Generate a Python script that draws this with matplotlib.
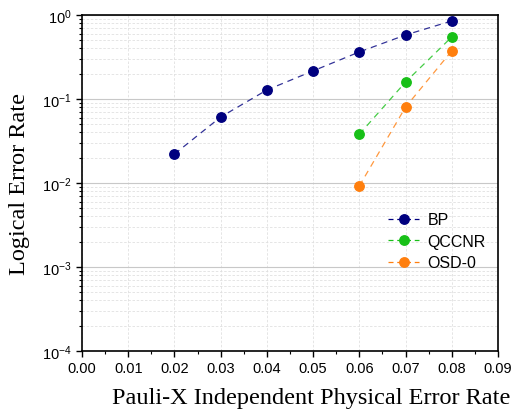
import matplotlib
matplotlib.use('Agg')
import matplotlib.pyplot as plt
from matplotlib.ticker import LogLocator, MultipleLocator, NullFormatter, FormatStrFormatter

plt.rcParams['font.family'] = 'Liberation Sans'
plt.rcParams['mathtext.fontset'] = 'custom'
plt.rcParams['mathtext.rm'] = 'Liberation Sans'
plt.rcParams['mathtext.it'] = 'Liberation Sans:italic'

bp_p = [0.02, 0.03, 0.04, 0.05, 0.06, 0.07, 0.08]
bp_err = [0.0221, 0.061, 0.128, 0.216, 0.363, 0.578, 0.85]

qccnr_p = [0.06, 0.07, 0.08]
qccnr_err = [0.038, 0.159, 0.547]

osd_p = [0.06, 0.07, 0.08]
osd_err = [0.0092, 0.080, 0.373]

series = [
    ('BP', bp_p, bp_err, '#00007f'),
    ('QCCNR', qccnr_p, qccnr_err, '#18c018'),
    ('OSD-0', osd_p, osd_err, '#ff7f0e'),
]

fig = plt.figure(figsize=(5.16, 4.10), dpi=100)
ax = fig.add_axes([0.159, 0.1415, 0.806, 0.8195])

for name, xs, ys, color in series:
    ax.plot(xs, ys, linestyle=(0, (5, 4)), linewidth=0.9, color=color, alpha=0.8)
    ax.plot(xs, ys, linestyle='none', marker='o', markersize=6.8, color=color)

ax.set_yscale('log')
ax.set_xlim(0.0, 0.09)
ax.set_ylim(1e-4, 1)
ax.xaxis.set_major_locator(MultipleLocator(0.01))
ax.xaxis.set_minor_locator(MultipleLocator(0.005))
ax.yaxis.set_major_locator(LogLocator(base=10, numticks=10))
ax.yaxis.set_minor_locator(LogLocator(base=10, subs=range(2, 10), numticks=20))
ax.yaxis.set_minor_formatter(NullFormatter())
ax.xaxis.set_major_formatter(FormatStrFormatter('%.2f'))

ax.grid(True, which='major', axis='y', color='#c8c8c8', linewidth=0.8)
ax.grid(True, which='minor', axis='y', color='#e0e0e0', linestyle=(0, (3, 2)), linewidth=0.6)
ax.grid(True, which='major', axis='x', color='#e0e0e0', linestyle=(0, (3, 2)), linewidth=0.6)
ax.set_axisbelow(True)

ax.tick_params(which='major', direction='out', length=4, width=1, labelsize=10.5)
ax.tick_params(which='minor', direction='out', length=2.5, width=0.8)
ax.tick_params(top=False, right=False)
for sp in ax.spines.values():
    sp.set_linewidth(1.2)

ax.set_xlabel('Pauli-X Independent Physical Error Rate', family='Liberation Serif', fontsize=17.5)
ax.set_ylabel('Logical Error Rate', family='Liberation Serif', fontsize=17.5)
ax.xaxis.set_label_coords(0.55, -0.108)
ax.yaxis.set_label_coords(-0.125, 0.5)

handles = []
for name, xs, ys, color in series:
    h, = ax.plot([], [], linestyle=(0, (4, 3)), linewidth=0.9, color=color, marker='o',
                 markersize=6.8, markeredgecolor=color, label=name)
    handles.append(h)
ax.legend(handles=handles, loc='upper left', bbox_to_anchor=(0.7, 0.455), frameon=False,
          fontsize=11.5, handlelength=2.0, handletextpad=0.5, labelspacing=0.4)

fig.savefig('out.png', dpi=100)
